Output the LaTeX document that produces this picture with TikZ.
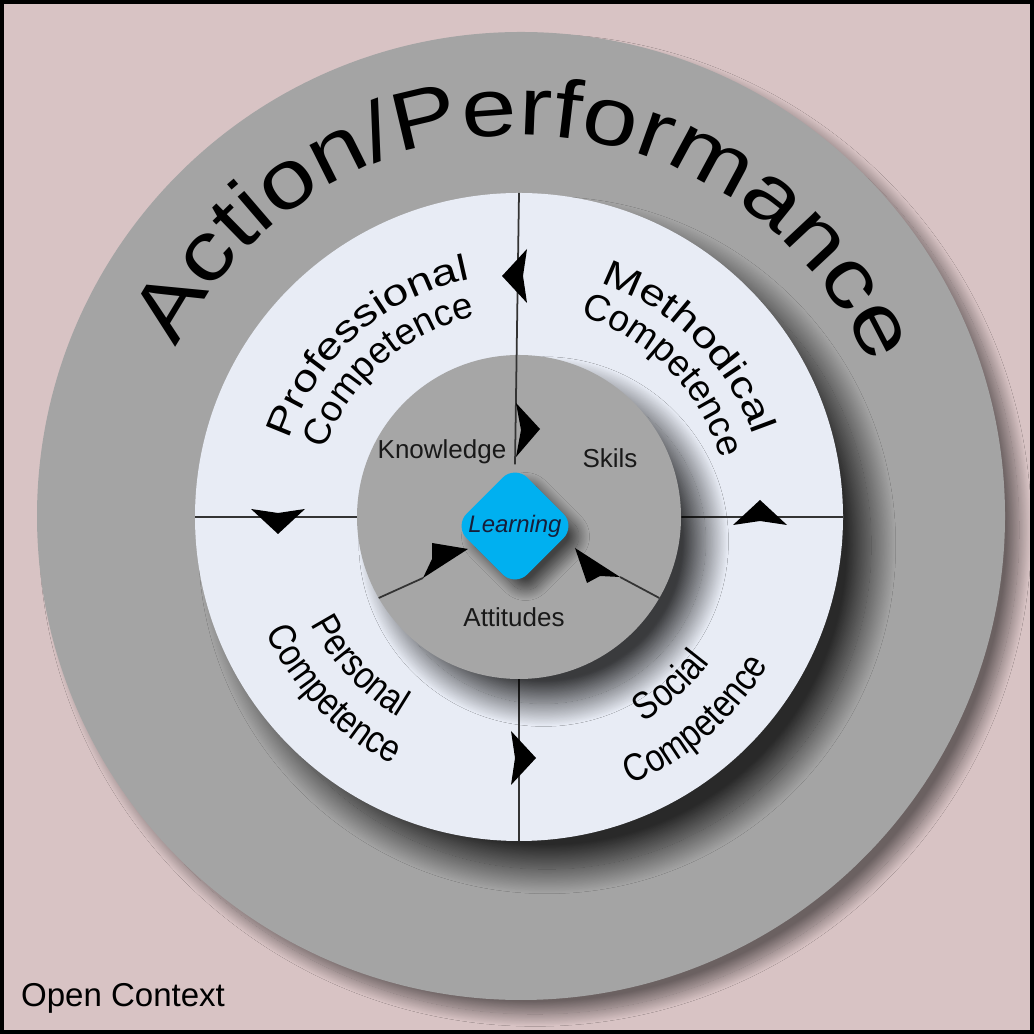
\documentclass[tikz,border=0pt]{standalone}
\usepackage{fontspec}
\setmainfont{Liberation Sans}
\newfontfamily\widefam[FakeStretch=1.2]{Liberation Sans}
\newfontfamily\outerfam[FakeStretch=1.25]{Liberation Sans}
\newfontfamily\narrowfam[FakeStretch=0.85]{Liberation Sans}
\usetikzlibrary{shapes.geometric, decorations.text, shadows.blur}
\definecolor{contextpink}{RGB}{216,195,196}
\definecolor{ringgray}{RGB}{164,164,164}
\definecolor{coregray}{RGB}{166,166,166}
\definecolor{compwhite}{RGB}{232,236,245}
\definecolor{learnblue}{RGB}{0,176,240}
\definecolor{learnink}{RGB}{22,30,58}
\newcommand{\actionfont}{\widefam\fontsize{23.5}{26}\selectfont}
\newcommand{\outerfont}{\outerfam\fontsize{10.5}{12}\selectfont}
\newcommand{\innerfont}{\fontsize{10.5}{12}\selectfont}
\newcommand{\lowerfont}{\narrowfam\fontsize{11}{13}\selectfont}

\begin{document}
\begin{tikzpicture}[
    arctext/.style={decorate, decoration={text along path, text align=center, text={#1}}},
    spoke/.style={black!80, line width=0.5pt},
    flowtip/.style={fill=black},
    core/.style={font=\fontsize{7.4}{9}\selectfont, text=black!90}
]
    \useasboundingbox (0,0) rectangle (10.34,10.34);
    \fill[contextpink] (0,0) rectangle (10.34,10.34);

    \begin{scope}[shift={(5.19,5.17)}]
        % rings
        \fill[ringgray, blur shadow={shadow xshift=4pt, shadow yshift=-4pt, shadow blur radius=3.5pt, shadow blur steps=30, shadow opacity=50}] (0.02,0.01) circle (4.84);
        \fill[compwhite, blur shadow={shadow xshift=8pt, shadow yshift=-8pt, shadow blur radius=7pt, shadow blur steps=40, shadow opacity=75}] (0,0) circle (3.24);

        \coordinate (wt) at (90:3.24);
        \coordinate (wl) at (180:3.24);
        \coordinate (wb) at (270:3.24);
        \coordinate (wr) at (0:3.24);
        \coordinate (cl) at (180:1.62);
        \coordinate (cb) at (270:1.62);
        \coordinate (cr) at (0:1.62);
        \draw[spoke] (wl) -- (cl);
        \draw[spoke] (cr) -- (wr);
        \draw[spoke] (cb) -- (wb);

        \fill[coregray, blur shadow={shadow xshift=7pt, shadow yshift=-7pt, shadow blur radius=6.5pt, shadow blur steps=40, shadow opacity=75}] (0,0) circle (1.62);

        \node[diamond, aspect=1, minimum size=1.22cm, inner sep=0pt, rounded corners=5pt,
              fill=learnblue, text=learnink, font=\itshape\fontsize{6.8}{8}\selectfont,
              blur shadow={shadow xshift=3pt, shadow yshift=-3pt, shadow blur radius=3pt, shadow blur steps=25, shadow opacity=60}]
            (learn) at (-0.04,-0.09) {Learning};

        % spokes of the core
        \coordinate (kl) at (210:1.62);
        \coordinate (kr) at (330:1.62);
        \coordinate (kle) at (-0.96,-0.61);
        \coordinate (kre) at (1.01,-0.60);
        \draw[spoke] (wt) -- (learn.north);
        \draw[spoke] (kl) -- (kle);
        \draw[spoke] (kr) -- (kre);

        % flow heads
        \foreach \a in {0,90,180,270}
            \fill[flowtip, rotate=\a] (-0.17,2.41) -- (0.08,2.68) -- (0.04,2.41) -- (0.08,2.14) -- cycle;
        \fill[flowtip] (0.21,0.88) -- (-0.03,1.14) -- (0.02,0.87) -- (-0.03,0.60) -- cycle;
        \fill[flowtip] (-0.51,-0.32) -- (-0.87,-0.26) -- (-0.87,-0.42) -- (kle) -- cycle;
        \fill[flowtip] (0.56,-0.31) -- (kre) -- (0.81,-0.59) -- (0.68,-0.66) -- cycle;

        % curved labels
        \path[arctext={|\actionfont|Action/Performance}] (178.5:3.82) arc[start angle=178.5, end angle=-1.5, radius=3.82];
        \path[arctext={|\outerfont|Professional}] (181.5:2.43) arc[start angle=181.5, end angle=81.5, radius=2.43];
        \path[arctext={|\innerfont|Competence}] (181.6:2.05) arc[start angle=181.6, end angle=81.6, radius=2.05];
        \path[arctext={|\outerfont|Methodical}] (95:2.48) arc[start angle=95, end angle=-5, radius=2.48];
        \path[arctext={|\innerfont|Competence}] (94.5:2.10) arc[start angle=94.5, end angle=-5.5, radius=2.10];
        \path[arctext={|\lowerfont|Personal}] (183.2:2.34) arc[start angle=183.2, end angle=263.2, radius=2.34];
        \path[arctext={|\lowerfont|Competence}] (183.7:2.78) arc[start angle=183.7, end angle=263.7, radius=2.78];
        \path[arctext={|\lowerfont|Social}] (272:2.40) arc[start angle=272, end angle=352, radius=2.40];
        \path[arctext={|\lowerfont|Competence}] (271:2.90) arc[start angle=271, end angle=351, radius=2.90];

        \node[core] (know) at (-0.77,0.65) {Knowledge};
        \node[core] (skill) at (0.91,0.59) {Skils};
        \node[core] (attit) at (-0.05,-1.00) {Attitudes};
    \end{scope}

    \node[font=\fontsize{9.4}{11}\selectfont] (ctx) at (1.23,0.36) {Open Context};
    \draw[line width=1.2pt] (0.02,0.02) rectangle (10.32,10.32);
\end{tikzpicture}
\end{document}
